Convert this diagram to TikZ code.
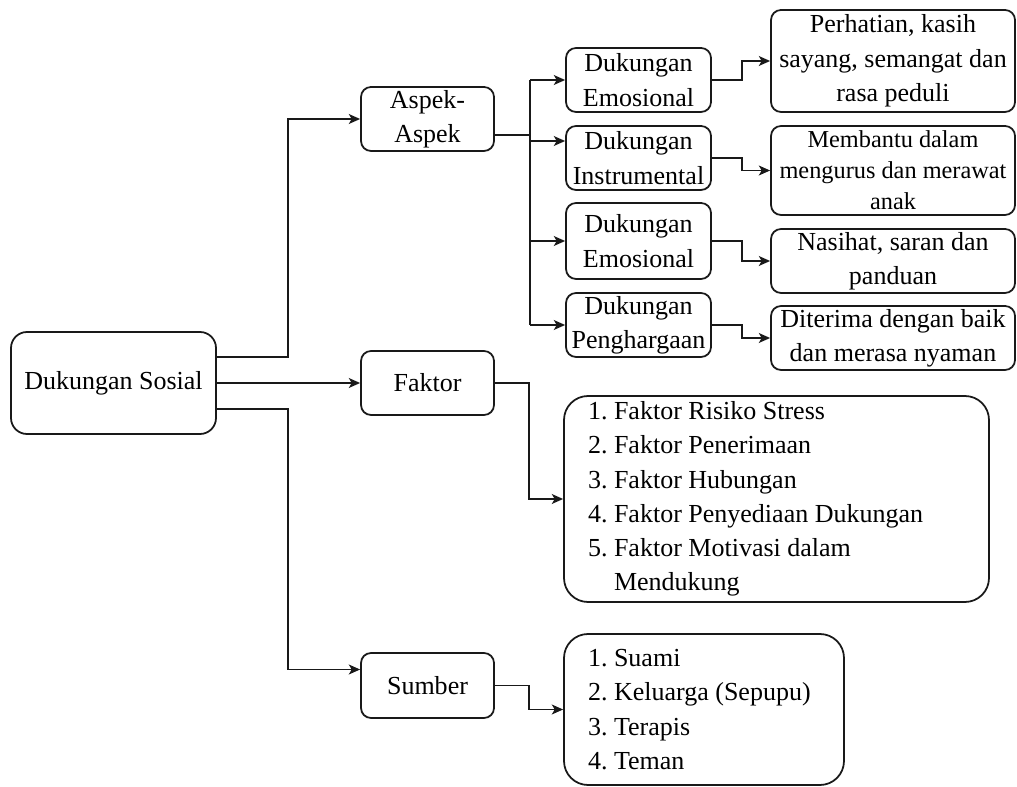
\documentclass[tikz,border=0pt]{standalone}
\usepackage{fontspec}
\setmainfont{Liberation Serif}
\usepackage{tikz}
\usetikzlibrary{calc,positioning,arrows.meta}
\definecolor{lineK}{RGB}{25,25,25}
\newcommand{\dsfont}{\fontsize{18.5}{24.4}\selectfont\frenchspacing}

\begin{document}
\begin{tikzpicture}[
    box/.style={draw=lineK,line width=1.25pt,rounded corners=0.25cm,align=center,inner sep=0pt,font=\dsfont},
    aspbox/.style={box,minimum width=3.625cm,minimum height=1.6cm},
    isibox/.style={box,minimum width=6.1cm,minimum height=1.6cm},
    listbox/.style={box,rounded corners=0.6cm,align=flush left,inner xsep=0.6cm},
    wire/.style={draw=lineK,line width=1.25pt},
    link/.style={wire,-{Stealth[length=8pt,width=7pt,inset=2pt]}}]
  \useasboundingbox (0,0) rectangle (25.425,19.65);

  % main branches
  \node[box,minimum width=5.125cm,minimum height=2.55cm,rounded corners=0.4cm] (ds) at (2.8375,10.075) {Dukungan Sosial};
  \node[box,minimum width=3.325cm,minimum height=1.6cm] (asp) at (10.6875,16.675) {Aspek-\\Aspek};
  \node[box,minimum width=3.325cm,minimum height=1.6cm] (fak) at (10.6875,10.075) {Faktor};
  \node[box,minimum width=3.325cm,minimum height=1.625cm] (sum) at (10.6875,2.5125) {Sumber};

  % aspek
  \node[aspbox] (emo) at (15.9625,17.65) {Dukungan\\Emosional};
  \node[aspbox] (ins) at (15.9625,15.7) {Dukungan\\Instrumental};
  \node[aspbox,minimum height=1.9cm] (inf) at (15.9625,13.625) {Dukungan\\Emosional};
  \node[aspbox] (pen) at (15.9625,11.525) {Dukungan\\Penghargaan};

  \node[isibox,minimum height=2.55cm] (perhatian) at (22.325,18.125) {Perhatian, kasih\\sayang, semangat dan\\rasa peduli};
  \node[isibox,minimum height=2.225cm,font=\fontsize{17.3}{22}\selectfont] (membantu) at (22.325,15.3875) {Membantu dalam\\mengurus dan merawat\\anak};
  \node[isibox] (nasihat) at (22.325,13.125) {Nasihat, saran dan\\panduan};
  \node[isibox] (diterima) at (22.325,11.2) {Diterima dengan baik\\dan merasa nyaman};

  % faktor dan sumber
  \node[listbox,text width=9.425cm,minimum height=5.15cm] (faklist) at (19.4125,7.175) {1. Faktor Risiko Stress\\2. Faktor Penerimaan\\3. Faktor Hubungan\\4. Faktor Penyediaan Dukungan\\5. Faktor Motivasi dalam\\\hphantom{5. }Mendukung};
  \node[listbox,text width=5.8cm,minimum height=3.775cm] (sumlist) at (17.6,1.9125) {1. Suami\\2. Keluarga (Sepupu)\\3. Terapis\\4. Teman};

  \coordinate (t1) at (7.2,0);
  \coordinate (t2) at (13.25,0);
  \coordinate (t3) at (18.55,0);
  \coordinate (t4) at (13.225,0);
  \coordinate (sumin) at ([yshift=0.4cm]sum.west);
  \coordinate (aspout) at ([yshift=-0.4cm]asp.east);
  \coordinate (insin) at ([yshift=0.425cm]ins.west);

  \draw[link] ([yshift=0.65cm]ds.east) -| (t1 |- asp.west) -- (asp.west);
  \draw[link] (ds.east) -- (fak.west);
  \draw[link] ([yshift=-0.65cm]ds.east) -| (t1 |- sumin) -- (sumin);

  \draw[wire] (aspout) -- (aspout -| t2);
  \draw[wire] (t2 |- emo.west) -- (t2 |- pen.west);
  \draw[link] (t2 |- emo.west) -- (emo.west);
  \draw[link] (t2 |- insin) -- (insin);
  \draw[link] (t2 |- inf.west) -- (inf.west);
  \draw[link] (t2 |- pen.west) -- (pen.west);

  \draw[link] (emo.east) -| (t3 |- perhatian.west) -- (perhatian.west);
  \draw[link] (ins.east) -| (t3 |- membantu.west) -- (membantu.west);
  \draw[link] (inf.east) -| (t3 |- nasihat.west) -- (nasihat.west);
  \draw[link] (pen.east) -| (t3 |- diterima.west) -- (diterima.west);

  \draw[link] (fak.east) -| (t4 |- faklist.west) -- (faklist.west);
  \draw[link] (sum.east) -| (t4 |- sumlist.west) -- (sumlist.west);
\end{tikzpicture}
\end{document}
